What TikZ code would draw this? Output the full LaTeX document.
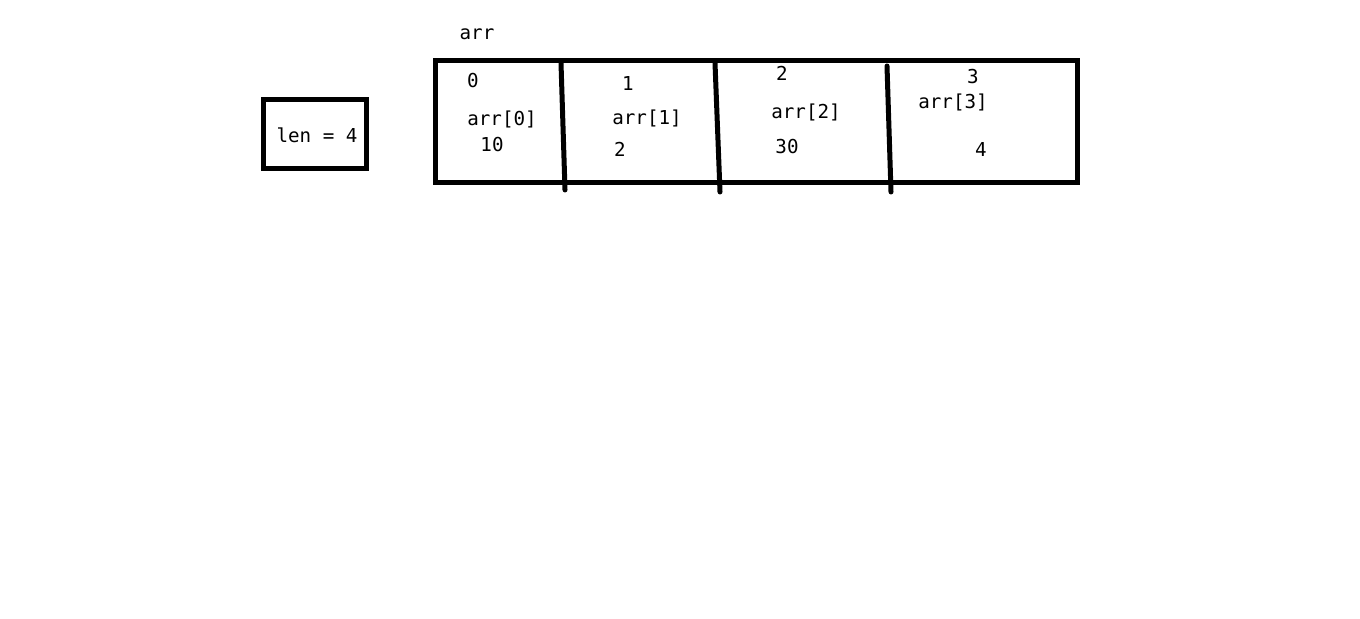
\documentclass[tikz,border=0pt]{standalone}
\usepackage{fontspec}
\setmonofont{DejaVu Sans Mono}
\begin{document}
\begin{tikzpicture}[x=0.5pt,y=-0.5pt,
  lbl/.style={font=\ttfamily\fontsize{9.6pt}{10.5pt}\selectfont, inner sep=0pt, anchor=center},
  thick box/.style={draw=black, line width=2.5pt},
  divider/.style={draw=black, line width=2.5pt, line cap=round}]
\useasboundingbox[fill=white] (0,0) rectangle (1360,619);
% len box
\draw[thick box] (263,100) rectangle (366,169);
\node[lbl] (len) at (317,135) {len = 4};
% array
\draw[thick box] (435,61) rectangle (1077,183);
\draw[divider] (561,63) -- (565,190);
\draw[divider] (715,63) -- (720,192);
\draw[divider] (887,66) -- (891,192);
\node[lbl] (arr) at (477,34) {arr};
\node[lbl] (i0) at (473,81) {0};
\node[lbl] (a0) at (502,119) {arr[0]};
\node[lbl] (v0) at (492,145) {10};
\node[lbl] (i1) at (628,84) {1};
\node[lbl] (a1) at (647,118) {arr[1]};
\node[lbl] (v1) at (620,149) {2};
\node[lbl] (i2) at (782,73) {2};
\node[lbl] (a2) at (806,112) {arr[2]};
\node[lbl] (v2) at (787,147) {30};
\node[lbl] (i3) at (973,77) {3};
\node[lbl] (a3) at (953,102) {arr[3]};
\node[lbl] (v3) at (981,150) {4};
\end{tikzpicture}
\end{document}
